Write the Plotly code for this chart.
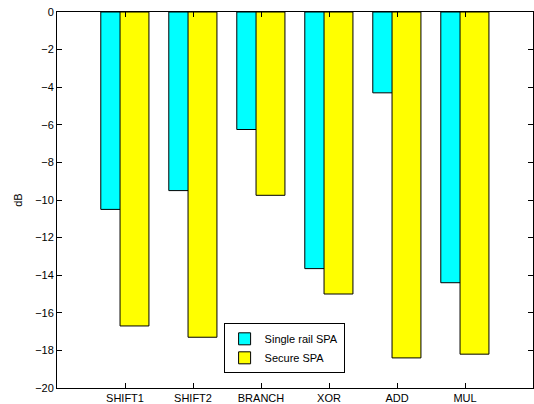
import plotly.graph_objects as go

categories = ["SHIFT1", "SHIFT2", "BRANCH", "XOR", "ADD", "MUL"]
single_rail = [-10.5, -9.5, -6.25, -13.65, -4.3, -14.4]
secure = [-16.7, -17.3, -9.75, -15.0, -18.4, -18.2]
series_names = ["Single rail SPA", "Secure SPA"]
y_ticks = [0, -2, -4, -6, -8, -10, -12, -14, -16, -18, -20]

xpos = list(range(1, len(categories) + 1))

fig = go.Figure()
fig.add_trace(go.Bar(
    x=xpos, y=single_rail, name=series_names[0],
    width=0.425, offset=-0.356,
    marker=dict(color="#00FFFF", line=dict(color="black", width=1)),
))
fig.add_trace(go.Bar(
    x=xpos, y=secure, name=series_names[1],
    width=0.425, offset=-0.073,
    marker=dict(color="#FFFF00", line=dict(color="black", width=1)),
))

fig.update_layout(
    width=534, height=404,
    margin=dict(l=57, r=1, t=12, b=16),
    barmode="overlay",
    plot_bgcolor="white", paper_bgcolor="white",
    font=dict(family="Liberation Sans, Arial, sans-serif", size=11, color="black"),
    showlegend=True,
    legend=dict(
        x=0.35, y=0.172, xanchor="left", yanchor="top",
        bordercolor="black", borderwidth=1, bgcolor="white",
        font=dict(size=11), tracegroupgap=0,
    ),
    xaxis=dict(
        range=[0, 7], tickmode="array", tickvals=xpos, ticktext=categories,
        showline=True, linecolor="black", linewidth=1, mirror="ticks",
        ticks="inside", ticklen=5, tickcolor="black", showgrid=False,
        zeroline=False, tickfont=dict(size=11),
    ),
    yaxis=dict(
        range=[-20, 0], tickmode="array", tickvals=y_ticks,
        showline=True, linecolor="black", linewidth=1, mirror="ticks",
        ticks="inside", ticklen=5, tickcolor="black", showgrid=False,
        zeroline=False, tickfont=dict(size=11),
        title=dict(text="dB", standoff=10, font=dict(size=11)),
    ),
)

fig.write_html("out.html")
